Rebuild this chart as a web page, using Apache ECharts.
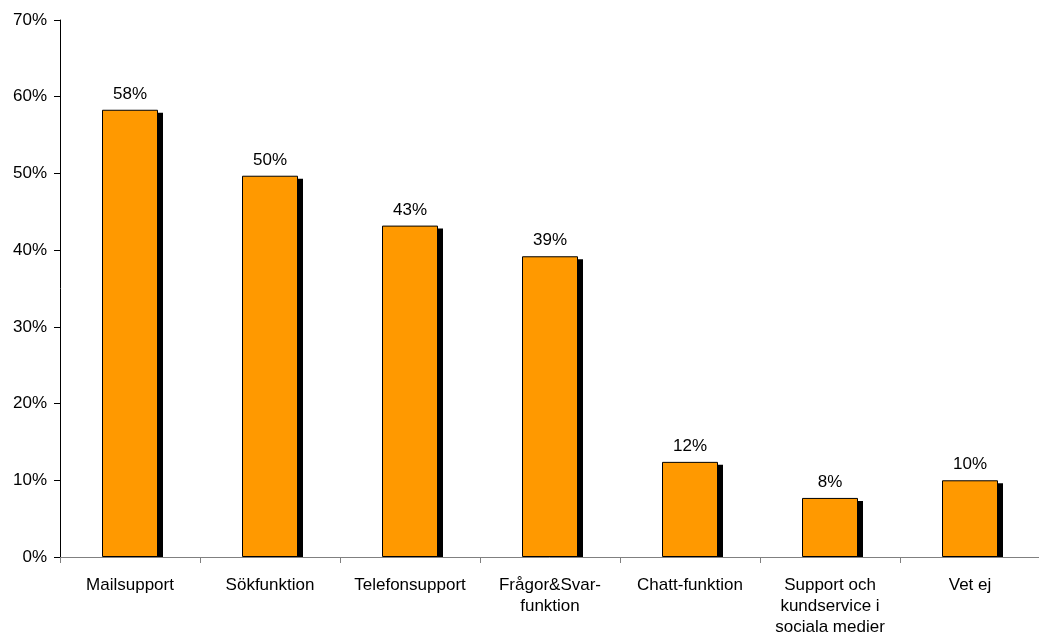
<!DOCTYPE html>
<html>
<head>
<meta charset="utf-8">
<script src="https://cdn.jsdelivr.net/npm/echarts@6/dist/echarts.min.js"></script>
<style>
  html, body { margin: 0; padding: 0; background: #fff; }
  #chart { width: 1039px; height: 636px; }
</style>
</head>
<body>
<div id="chart"></div>
<script>
// Support channels, share of respondents (%)
const categories = [
  'Mailsupport',
  'Sökfunktion',
  'Telefonsupport',
  'Frågor&Svar-\nfunktion',
  'Chatt-funktion',
  'Support och\nkundservice i\nsociala medier',
  'Vet ej'
];
const shares = [58.3, 49.7, 43.2, 39.2, 12.4, 7.7, 10.0];
const yTicks = [0, 10, 20, 30, 40, 50, 60, 70];

const font = 'Liberation Sans, Arial, sans-serif';
const BAR_RATIO = 0.4;
const chart = echarts.init(document.getElementById('chart'));

// Solid black drop shadow drawn behind each bar, offset right and down
function renderShadow(params, api) {
  const idx = api.value(0);
  const top = api.coord([idx, api.value(1)]);
  const base = api.coord([idx, 0]);
  const w = api.size([1, 0])[0] * BAR_RATIO;
  const x = top[0] - w / 2 + 5;
  const y = top[1] + 3;
  return {
    type: 'rect',
    shape: { x: x, y: y, width: w, height: base[1] - y },
    style: { fill: '#000' }
  };
}

chart.setOption({
  animation: false,
  grid: {
    left: 60, top: 20, width: 980, height: 537,
    containLabel: false, outerBoundsMode: 'none'
  },
  xAxis: {
    type: 'category',
    data: categories,
    axisLine: { lineStyle: { color: '#808080', width: 1 } },
    axisTick: { show: true, alignWithLabel: false, length: 6, lineStyle: { color: '#808080' } },
    axisLabel: {
      color: '#000', fontFamily: font, fontSize: 17, lineHeight: 21,
      margin: 18, interval: 0
    }
  },
  yAxis: {
    type: 'value',
    min: yTicks[0],
    max: yTicks[yTicks.length - 1],
    interval: 10,
    axisLine: { show: true, lineStyle: { color: '#000', width: 1 } },
    axisTick: { show: true, length: 6, lineStyle: { color: '#000' } },
    splitLine: { show: false },
    axisLabel: {
      color: '#000', fontFamily: font, fontSize: 17, margin: 13,
      formatter: v => v + '%'
    }
  },
  series: [
    {
      type: 'custom',
      z: 1,
      renderItem: renderShadow,
      encode: { x: 0, y: 1 },
      data: shares.map((v, i) => [i, v]),
      silent: true
    },
    {
      type: 'bar',
      z: 2,
      data: shares,
      barWidth: (BAR_RATIO * 100) + '%',
      itemStyle: {
        color: '#FF9900',
        borderColor: '#000',
        borderWidth: 1
      },
      label: {
        show: true,
        position: 'top',
        distance: 7,
        color: '#000',
        fontFamily: font,
        fontSize: 17,
        formatter: p => Math.round(p.value) + '%'
      }
    }
  ]
});
</script>
</body>
</html>
